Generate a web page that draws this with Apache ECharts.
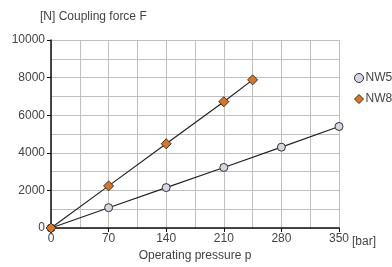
<!DOCTYPE html>
<html>
<head>
<meta charset="utf-8">
<script src="https://cdn.jsdelivr.net/npm/echarts@6/dist/echarts.min.js"></script>
<style>
  html, body { margin: 0; padding: 0; background: #fff; }
  #chart { width: 392px; height: 267px; }
</style>
</head>
<body>
<div id="chart"></div>
<script>
// operating pressure [bar]
const pressureNW5 = [0, 70, 140, 210, 280, 350]
const forceNW5 = [0, 1080, 2150, 3220, 4300, 5400]
const pressureNW8 = [0, 70, 140, 210, 245]
const forceNW8 = [0, 2240, 4480, 6720, 7880]

const pairs = (xs, ys) => xs.map((x, i) => [x, ys[i]])

const font = 'Liberation Sans, Arial, sans-serif'
const textColor = '#444'
const chart = echarts.init(document.getElementById('chart'))

chart.setOption({
  animation: false,
  textStyle: { fontFamily: font },
  grid: { left: 51, right: 53, top: 40, bottom: 35 },
  graphic: [
    {
      type: 'text',
      left: 40,
      top: 11,
      style: { text: '[N] Coupling force F', fill: textColor, font: '12px ' + font },
    },
    {
      type: 'text',
      left: 352,
      top: 236,
      style: { text: '[bar]', fill: textColor, font: '12px ' + font },
    },
  ],
  legend: {
    orient: 'vertical',
    left: 354,
    top: 72,
    padding: 0,
    itemWidth: 9,
    itemHeight: 9,
    itemGap: 9,
    textStyle: { color: textColor, fontSize: 12, padding: [0, 0, 0, -3] },
    itemStyle: { borderWidth: 1 },
    data: [
      { name: 'NW5', icon: 'circle' },
      { name: 'NW8', icon: 'diamond' },
    ],
  },
  xAxis: {
    type: 'value',
    min: 0,
    max: 350,
    interval: 70,
    name: 'Operating pressure p',
    nameLocation: 'middle',
    nameGap: 22,
    nameTextStyle: { color: textColor, fontSize: 12 },
    axisLine: { lineStyle: { color: '#111', width: 1.5 } },
    axisTick: { length: 4, lineStyle: { color: '#111' } },
    axisLabel: { color: textColor, fontSize: 12, margin: 5 },
    splitLine: { lineStyle: { color: '#c0c0c0' } },
    minorTick: { show: false, splitNumber: 2 },
    minorSplitLine: { show: true, lineStyle: { color: '#c0c0c0' } },
  },
  yAxis: {
    type: 'value',
    min: 0,
    max: 10000,
    interval: 2000,
    axisLine: { show: true, lineStyle: { color: '#111', width: 1.5 } },
    axisTick: { show: true, length: 4, lineStyle: { color: '#111' } },
    axisLabel: { color: textColor, fontSize: 12, margin: 6, formatter: v => String(v) },
    splitLine: { lineStyle: { color: '#c0c0c0' } },
    minorTick: { show: false, splitNumber: 2 },
    minorSplitLine: { show: true, lineStyle: { color: '#c0c0c0' } },
  },
  series: [
    {
      name: 'NW5',
      type: 'line',
      data: pairs(pressureNW5, forceNW5),
      symbol: 'circle',
      symbolSize: 8,
      lineStyle: { color: '#222', width: 1.2 },
      itemStyle: { color: '#d6d6e4', borderColor: '#333', borderWidth: 1 },
      z: 3,
    },
    {
      name: 'NW8',
      type: 'line',
      data: pairs(pressureNW8, forceNW8),
      symbol: 'diamond',
      symbolSize: 10,
      lineStyle: { color: '#222', width: 1.2 },
      itemStyle: { color: '#e0731c', borderColor: '#333', borderWidth: 1 },
      z: 4,
    },
  ],
})
</script>
</body>
</html>
